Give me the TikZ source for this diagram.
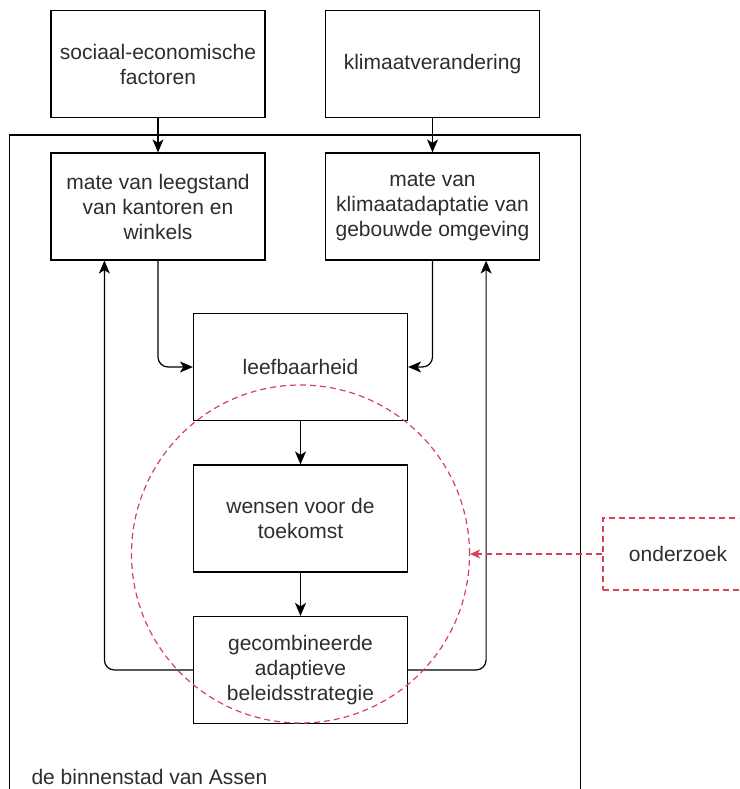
\documentclass[tikz,border=0pt]{standalone}
\usepackage{fontspec}
\setmainfont{Liberation Sans}
\usepackage{tikz}
\usetikzlibrary{arrows.meta, positioning}
\definecolor{asntext}{RGB}{45,45,45}
\definecolor{asnred}{RGB}{214,66,86}

\begin{document}
\begin{tikzpicture}[x=1pt, y=-1pt, >={Stealth[length=13pt, width=11pt, inset=3.5pt]},
  txt/.style={text=asntext, font=\fontsize{21pt}{25pt}\selectfont},
  box/.style={txt, draw, line width=1.2pt, minimum width=214pt, minimum height=107pt, align=center, inner sep=0pt},
  flow/.style={->, line width=1.2pt},
  probe/.style={draw=asnred, line width=1.2pt, dash pattern=on 6pt off 4pt}]

\useasboundingbox (0,0) rectangle (739,789);
\clip (0,0) rectangle (739,789);

% Outer frame
\draw[line width=1.2pt] (9.5,135) rectangle (580.5,820);
\node[txt, anchor=west] (stad) at (28,777) {de binnenstad van Assen};

% Drivers
\node[box] (socio) at (158,64) {sociaal-economische\\factoren};
\node[box] (klimaat) at (432.5,64) {klimaatverandering};

% Inner chain
\node[box] (leegstand) at (158,206.5) {mate van leegstand\\van kantoren en\\winkels};
\node[box] (adaptatie) at (432.5,206.5) {mate van\\klimaatadaptatie van\\gebouwde omgeving};
\node[box] (leef) at (300.5,367) {leefbaarheid};
\node[box] (wensen) at (300.5,518.5) {wensen voor de\\toekomst};
\node[box] (strategie) at (300.5,670) {gecombineerde\\adaptieve\\beleidsstrategie};

\draw[flow] (socio) -- (leegstand);
\draw[flow] (klimaat) -- (adaptatie);
\draw[flow, rounded corners=10pt] (leegstand.south) |- (leef.west);
\draw[flow, rounded corners=10pt] (adaptatie.south) |- (leef.east);
\draw[flow] (leef) -- (wensen);
\draw[flow] (wensen) -- (strategie);

% Feedback loops
\draw[flow, rounded corners=10pt] (strategie.west) -| ([xshift=54pt]leegstand.south west);
\draw[flow, rounded corners=10pt] (strategie.east) -| ([xshift=-54pt]adaptatie.south east);

% Research focus
\node[probe, circle, minimum size=338pt, inner sep=0pt] (focus) at (300.5,554) {};
\node[probe, txt, minimum width=150pt, minimum height=72pt] (onderzoek) at (678,554) {onderzoek};
\draw[probe, ->, >={Stealth[length=10pt, width=9pt, inset=2.5pt]}] (onderzoek.west) -- (focus.east);

\end{tikzpicture}
\end{document}
